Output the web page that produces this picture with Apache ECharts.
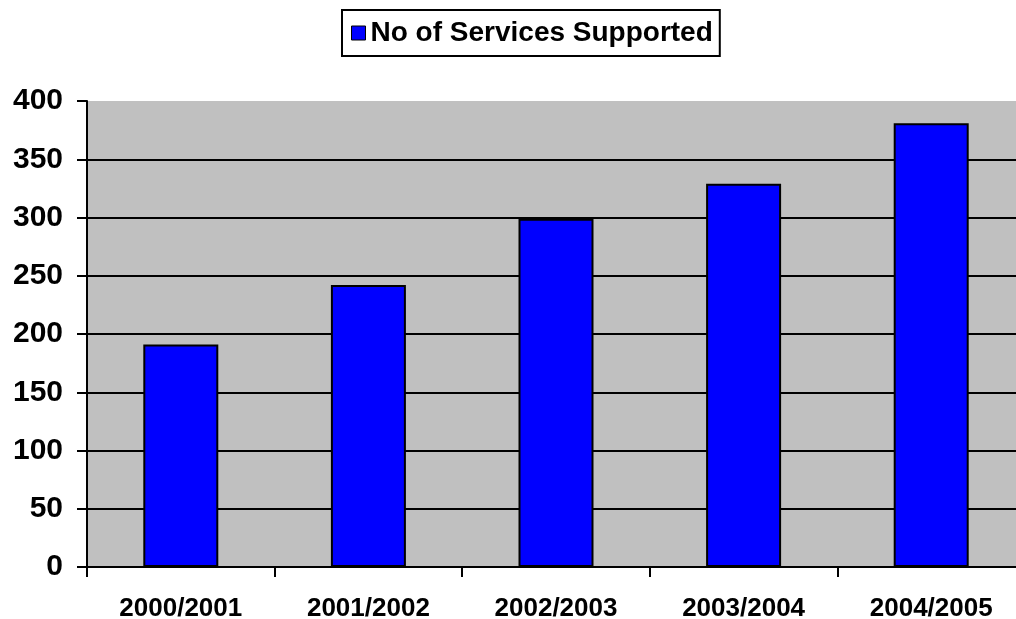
<!DOCTYPE html>
<html>
<head>
<meta charset="utf-8">
<script src="https://cdn.jsdelivr.net/npm/echarts@6/dist/echarts.min.js"></script>
<style>
html,body{margin:0;padding:0;background:#fff;}
#chart{width:1016px;height:619px;}
</style>
</head>
<body>
<div id="chart"></div>
<script>
var categories = ['2000/2001', '2001/2002', '2002/2003', '2003/2004', '2004/2005'];
var servicesSupported = [191, 242, 299, 329, 381];
var seriesName = 'No of Services Supported';
var yTicks = [0, 50, 100, 150, 200, 250, 300, 350, 400];

var FONT = '"Liberation Sans", Arial, sans-serif';
var chart = echarts.init(document.getElementById('chart'), null, {renderer: 'canvas'});
var gridColors = yTicks.map(function (v, i) { return i === yTicks.length - 1 ? 'rgba(0,0,0,0)' : '#000'; });

chart.setOption({
  animation: false,
  backgroundColor: '#fff',
  legend: {
    left: 342,
    top: 10,
    data: [seriesName],
    orient: 'horizontal',
    backgroundColor: '#fff',
    borderColor: '#000',
    borderWidth: 2,
    borderRadius: 0,
    padding: [9, 7, 9, 9],
    itemWidth: 14,
    itemHeight: 14,
    icon: 'rect',
    itemStyle: {borderColor: '#000', borderWidth: 1},
    textStyle: {fontFamily: FONT, fontWeight: 'bold', fontSize: 28, color: '#000'}
  },
  grid: {
    left: 87,
    width: 938,
    top: 101,
    height: 466,
    show: true,
    backgroundColor: '#c0c0c0',
    borderWidth: 0,
    containLabel: false,
    outerBoundsMode: 'none'
  },
  xAxis: {
    type: 'category',
    data: categories,
    axisLine: {show: true, lineStyle: {color: '#000', width: 2}},
    axisTick: {show: true, alignWithLabel: false, length: 10, lineStyle: {color: '#000', width: 2}},
    axisLabel: {margin: 29, fontFamily: FONT, fontWeight: 'bold', fontSize: 26, color: '#000'},
    splitLine: {show: false}
  },
  yAxis: {
    type: 'value',
    min: 0,
    max: 400,
    interval: 50,
    axisLine: {show: true, lineStyle: {color: '#000', width: 2}},
    axisTick: {show: true, length: 10, lineStyle: {color: '#000', width: 2}},
    axisLabel: {margin: 24, fontFamily: FONT, fontWeight: 'bold', fontSize: 30, color: '#000'},
    splitLine: {show: true, lineStyle: {color: gridColors, width: 2}}
  },
  series: [{
    name: seriesName,
    type: 'bar',
    data: servicesSupported,
    barWidth: 75,
    itemStyle: {color: '#0000ff', borderColor: '#000', borderWidth: 2}
  }]
});
</script>
</body>
</html>
